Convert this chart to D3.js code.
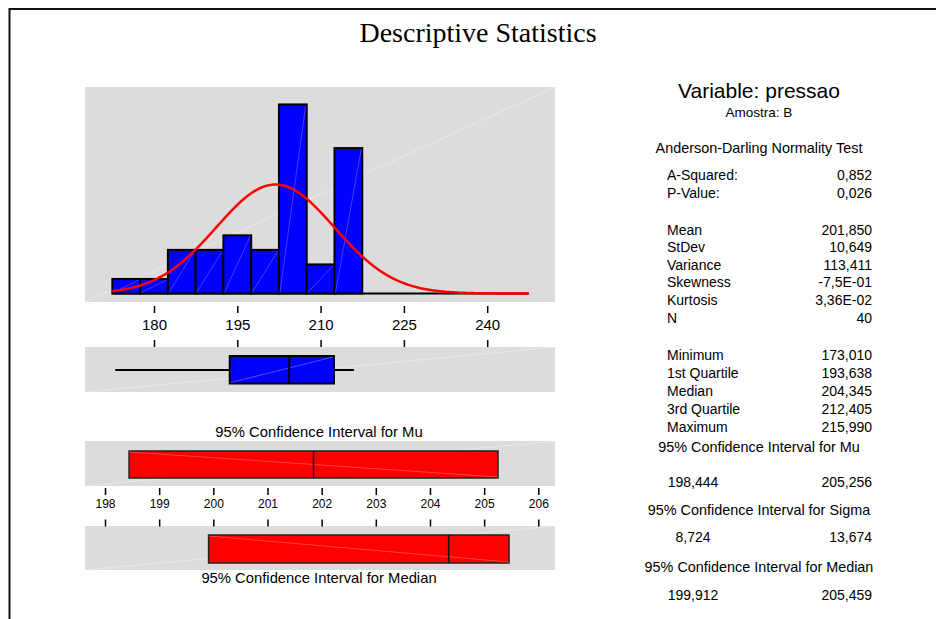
<!DOCTYPE html>
<html>
<head>
<meta charset="utf-8">
<script src="https://cdn.jsdelivr.net/npm/d3@7"></script>
<style>
  body { margin: 0; background: #fff; }
  text { font-family: "Liberation Sans", Arial, sans-serif; fill: #000; }
</style>
</head>
<body>
<svg id="chart"></svg>
<script>
// histogram data (bin width 5)
const binCenters = [175, 180, 185, 190, 195, 200, 205, 210, 215];
const binCounts = [1, 1, 3, 3, 4, 3, 13, 2, 10];
const binWidth = 5;
const histTicks = [180, 195, 210, 225, 240];

// summary values
const boxValues = [173.010, 193.638, 204.345, 212.405, 215.990]; // min q1 median q3 max
const meanValue = 201.850;
const sdValue = 10.649;
const nValue = 40;
const ciMu = [198.444, 205.256];
const ciMedian = [199.912, 205.459];
const ciTicks = [198, 199, 200, 201, 202, 203, 204, 205, 206];

// right side table
const testLabels = ["A-Squared:", "P-Value:"];
const testValues = ["0,852", "0,026"];
const momentLabels = ["Mean", "StDev", "Variance", "Skewness", "Kurtosis", "N"];
const momentValues = ["201,850", "10,649", "113,411", "-7,5E-01", "3,36E-02", "40"];
const quantLabels = ["Minimum", "1st Quartile", "Median", "3rd Quartile", "Maximum"];
const quantValues = ["173,010", "193,638", "204,345", "212,405", "215,990"];
const ciBlocks = [
  { title: "95% Confidence Interval for Mu", lo: "198,444", hi: "205,256" },
  { title: "95% Confidence Interval for Sigma", lo: "8,724", hi: "13,674" },
  { title: "95% Confidence Interval for Median", lo: "199,912", hi: "205,459" },
];

const width = 936;
const height = 619;
const grey = "#dcdcdc";

const svg = d3
  .select("#chart")
  .attr("width", width)
  .attr("height", height)
  .attr("viewBox", `0 0 ${width} ${height}`);

// frame
svg
  .append("path")
  .attr("d", `M${width},9 H9.5 V${height}`)
  .attr("fill", "none")
  .attr("stroke", "#111")
  .attr("stroke-width", 2);

svg
  .append("text")
  .attr("x", 478)
  .attr("y", 32)
  .attr("text-anchor", "middle")
  .attr("dominant-baseline", "central")
  .style("font-family", "'Liberation Serif', 'Times New Roman', serif")
  .style("font-size", "28px")
  .text("Descriptive Statistics");

const panelX0 = 85;
const panelX1 = 555;

// shared scale for histogram + boxplot
const x = d3
  .scaleLinear()
  .domain([180, 240])
  .range([154, 154 + 60 * (83.3 / 15)]);

const y = d3.scaleLinear().domain([0, 14.2]).range([293.5, 87]);

function panel(y0, y1) {
  svg
    .append("rect")
    .attr("x", panelX0)
    .attr("y", y0)
    .attr("width", panelX1 - panelX0)
    .attr("height", y1 - y0)
    .attr("fill", grey);
  // faint gradient seam
  svg
    .append("line")
    .attr("x1", panelX0)
    .attr("y1", y1)
    .attr("x2", panelX1)
    .attr("y2", y0)
    .attr("stroke", "#fff")
    .attr("stroke-opacity", 0.35)
    .attr("stroke-width", 1);
}

// ---- histogram ----
panel(87, 302);

const lastEdge = 247.5;
svg
  .append("line")
  .attr("x1", x(binCenters[0] - binWidth / 2))
  .attr("x2", x(lastEdge))
  .attr("y1", y(0))
  .attr("y2", y(0))
  .attr("stroke", "#000")
  .attr("stroke-width", 2);

const bars = svg
  .append("g")
  .selectAll("g")
  .data(binCenters.map((c, i) => ({ c, n: binCounts[i] })))
  .enter()
  .append("g");

bars
  .append("rect")
  .attr("x", (d) => x(d.c - binWidth / 2))
  .attr("y", (d) => y(d.n))
  .attr("width", (d) => x(d.c + binWidth / 2) - x(d.c - binWidth / 2))
  .attr("height", (d) => y(0) - y(d.n))
  .attr("fill", "#0000ff")
  .attr("stroke", "#000")
  .attr("stroke-width", 2);

bars
  .append("line")
  .attr("x1", (d) => x(d.c - binWidth / 2) + 1)
  .attr("y1", y(0) - 1)
  .attr("x2", (d) => x(d.c + binWidth / 2) - 1)
  .attr("y2", (d) => y(d.n) + 1)
  .attr("stroke", "#fff")
  .attr("stroke-opacity", 0.3)
  .attr("stroke-width", 0.8);

// fitted normal curve
const curveXs = d3.range(binCenters[0] - binWidth / 2, lastEdge + 0.01, 0.25);
const curve = curveXs.map((v) => [
  v,
  (nValue * binWidth) / (sdValue * Math.sqrt(2 * Math.PI)) *
    Math.exp(-0.5 * Math.pow((v - meanValue) / sdValue, 2)),
]);
svg
  .append("path")
  .datum(curve)
  .attr("fill", "none")
  .attr("stroke", "#ff0000")
  .attr("stroke-width", 2.5)
  .attr(
    "d",
    d3
      .line()
      .x((d) => x(d[0]))
      .y((d) => y(d[1]))
  );

// axis with ticks above and below labels
const histAxis = svg
  .append("g")
  .attr("transform", "translate(0, 306)")
  .call(d3.axisBottom(x).tickValues(histTicks).tickSize(7).tickPadding(6));
histAxis.select(".domain").remove();
histAxis.selectAll("line").attr("stroke-width", 1.5);
histAxis
  .selectAll("text")
  .style("font-family", "'Liberation Sans', Arial, sans-serif")
  .style("font-size", "15px")
  .attr("fill", "#000");

const histAxis2 = svg
  .append("g")
  .attr("transform", "translate(0, 347)")
  .call(d3.axisTop(x).tickValues(histTicks).tickSize(7).tickFormat(""));
histAxis2.select(".domain").remove();
histAxis2.selectAll("line").attr("stroke-width", 1.5);

// ---- boxplot ----
panel(347, 392);
const boxY = 370;
svg
  .append("line")
  .attr("x1", x(boxValues[0]))
  .attr("x2", x(boxValues[4]))
  .attr("y1", boxY)
  .attr("y2", boxY)
  .attr("stroke", "#000")
  .attr("stroke-width", 2);
svg
  .append("rect")
  .attr("x", x(boxValues[1]))
  .attr("y", 356)
  .attr("width", x(boxValues[3]) - x(boxValues[1]))
  .attr("height", 27.5)
  .attr("fill", "#0000ff")
  .attr("stroke", "#000")
  .attr("stroke-width", 2);
svg
  .append("line")
  .attr("x1", x(boxValues[1]) + 1)
  .attr("y1", 382.5)
  .attr("x2", x(boxValues[3]) - 1)
  .attr("y2", 357)
  .attr("stroke", "#fff")
  .attr("stroke-opacity", 0.3);
svg
  .append("line")
  .attr("x1", x(boxValues[2]))
  .attr("x2", x(boxValues[2]))
  .attr("y1", 356)
  .attr("y2", 383.5)
  .attr("stroke", "#000")
  .attr("stroke-width", 2);

// ---- confidence intervals ----
const xc = d3.scaleLinear().domain([198, 206]).range([105, 538.3]);

svg
  .append("text")
  .attr("x", 319)
  .attr("y", 432)
  .attr("text-anchor", "middle")
  .attr("dominant-baseline", "central")
  .style("font-size", "14.8px")
  .text("95% Confidence Interval for Mu");

function ciBox(y0, y1, by0, by1, interval, mid) {
  panel(y0, y1);
  svg
    .append("rect")
    .attr("x", xc(interval[0]))
    .attr("y", by0)
    .attr("width", xc(interval[1]) - xc(interval[0]))
    .attr("height", by1 - by0)
    .attr("fill", "#ff0000")
    .attr("stroke", "#222")
    .attr("stroke-width", 1.5);
  svg
    .append("line")
    .attr("x1", xc(interval[0]))
    .attr("y1", by0 + 1)
    .attr("x2", xc(interval[1]))
    .attr("y2", by1 - 1)
    .attr("stroke", "#fff")
    .attr("stroke-opacity", 0.25);
  svg
    .append("line")
    .attr("x1", xc(mid))
    .attr("x2", xc(mid))
    .attr("y1", by0)
    .attr("y2", by1)
    .attr("stroke", "#111")
    .attr("stroke-width", 1.5);
}

ciBox(441, 486, 451, 478, ciMu, meanValue);
ciBox(526, 570, 535, 563, ciMedian, boxValues[2]);

const ciAxis = svg
  .append("g")
  .attr("transform", "translate(0, 488)")
  .call(d3.axisBottom(xc).tickValues(ciTicks).tickSize(7).tickPadding(4));
ciAxis.select(".domain").remove();
ciAxis.selectAll("line").attr("stroke-width", 1.5);
ciAxis
  .selectAll("text")
  .style("font-family", "'Liberation Sans', Arial, sans-serif")
  .style("font-size", "12px")
  .attr("fill", "#000");

const ciAxis2 = svg
  .append("g")
  .attr("transform", "translate(0, 526.5)")
  .call(d3.axisTop(xc).tickValues(ciTicks).tickSize(7).tickFormat(""));
ciAxis2.select(".domain").remove();
ciAxis2.selectAll("line").attr("stroke-width", 1.5);

svg
  .append("text")
  .attr("x", 319)
  .attr("y", 578)
  .attr("text-anchor", "middle")
  .attr("dominant-baseline", "central")
  .style("font-size", "14.8px")
  .text("95% Confidence Interval for Median");

// ---- right side text ----
const colL = 667;
const colR = 872;
const colMid = 759;
const side = svg.append("g");

function centered(t, yy, size) {
  side
    .append("text")
    .attr("x", colMid)
    .attr("y", yy)
    .attr("text-anchor", "middle")
    .attr("dominant-baseline", "central")
    .style("font-size", size)
    .text(t);
}

function rows(labels, values, y0, step) {
  labels.forEach((l, i) => {
    side
      .append("text")
      .attr("x", colL)
      .attr("y", y0 + i * step)
      .attr("dominant-baseline", "central")
      .style("font-size", "14px")
      .text(l);
    side
      .append("text")
      .attr("x", colR)
      .attr("y", y0 + i * step)
      .attr("text-anchor", "end")
      .attr("dominant-baseline", "central")
      .style("font-size", "14px")
      .text(values[i]);
  });
}

centered("Variable: pressao", 90, "21px");
centered("Amostra: B", 112, "13.5px");
centered("Anderson-Darling Normality Test", 147.5, "14.4px");
rows(testLabels, testValues, 175, 17.7);
rows(momentLabels, momentValues, 229.5, 17.6);
rows(quantLabels, quantValues, 355, 18.1);

const ciTitleY = [446.7, 510, 566.7];
const ciValY = [481.7, 536.7, 595];
ciBlocks.forEach((b, i) => {
  centered(b.title, ciTitleY[i], "14.4px");
  side
    .append("text")
    .attr("x", 693)
    .attr("y", ciValY[i])
    .attr("text-anchor", "middle")
    .attr("dominant-baseline", "central")
    .style("font-size", "14px")
    .text(b.lo);
  side
    .append("text")
    .attr("x", colR)
    .attr("y", ciValY[i])
    .attr("text-anchor", "end")
    .attr("dominant-baseline", "central")
    .style("font-size", "14px")
    .text(b.hi);
});
</script>
</body>
</html>
